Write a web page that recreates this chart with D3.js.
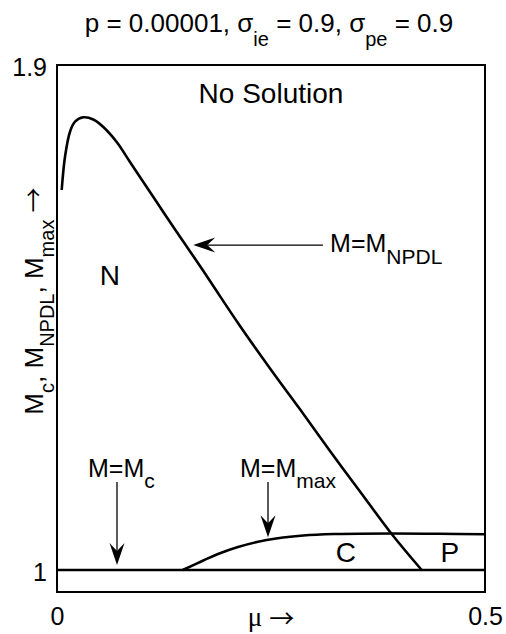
<!DOCTYPE html>
<html>
<head>
<meta charset="utf-8">
<script src="https://cdn.jsdelivr.net/npm/d3@7"></script>
<style>
  html, body { margin: 0; padding: 0; background: #fff; }
  svg { display: block; }
  text { font-family: "Liberation Sans", Arial, Helvetica, sans-serif; fill: #000; }
</style>
</head>
<body>
<svg id="chart" width="506" height="634"></svg>
<script>
// ---- data ----
const xTickValues = [0, 0.5];
const xTickLabels = ["0", "0.5"];
const yTickValues = [1, 1.9];
const yTickLabels = ["1", "1.9"];

// M = M_NPDL curve (mu, M)
const npdlMu = [0.00549, 0.00935, 0.01519, 0.02103, 0.03072, 0.04241, 0.05409, 0.06974, 0.08528, 0.10082,
                0.11647, 0.13201, 0.14953, 0.16706, 0.18259, 0.21379, 0.25269, 0.28388, 0.31893, 0.35397, 0.39100, 0.42605];
const npdlM  = [1.6772, 1.7366, 1.7811, 1.7990, 1.8068, 1.8029, 1.7895, 1.7628, 1.7271, 1.6915,
                1.6558, 1.6202, 1.5810, 1.5418, 1.5061, 1.4349, 1.3511, 1.2864, 1.2121, 1.1399, 1.0642, 1.0000];

// M = M_max curve
const maxMu = [0.14685, 0.17091, 0.18808, 0.21145, 0.24498, 0.28773, 0.32675, 0.39100, 0.44626, 0.50000];
const maxM  = [1.00000, 1.01693, 1.02852, 1.04099, 1.05347, 1.06149, 1.06416, 1.06505, 1.06452, 1.06362];

// M = M_c line
const mcMu = [0, 0.5];
const mcM  = [1, 1];

// ---- layout ----
const svg = d3.select("#chart");
const x = d3.scaleLinear().domain([0, 0.5]).range([57, 485]);
const y = d3.scaleLinear().domain([0.9608, 1.9]).range([592, 65]);

const FS = 25;
const ARROW_FONT = '"Noto Sans CJK JP", "Noto Sans CJK SC", "DejaVu Sans", sans-serif';

// frame
svg.append("rect")
  .attr("x", x(0)).attr("y", y(1.9))
  .attr("width", x(0.5) - x(0)).attr("height", y(0.9608) - y(1.9))
  .attr("fill", "none").attr("stroke", "#000").attr("stroke-width", 2);

// axes (labels only)
const xAxis = d3.axisBottom(x).tickValues(xTickValues).tickSize(0).tickPadding(15)
  .tickFormat((d, i) => xTickLabels[i]);
const gx = svg.append("g").attr("transform", `translate(0,${y(0.9608)})`).call(xAxis);
gx.select(".domain").remove();
gx.selectAll("text").attr("font-size", FS).attr("font-family", null);

const yAxis = d3.axisLeft(y).tickValues(yTickValues).tickSize(0).tickPadding(10)
  .tickFormat((d, i) => yTickLabels[i]);
const gy = svg.append("g").attr("transform", `translate(${x(0)},0)`).call(yAxis);
gy.select(".domain").remove();
gy.selectAll("text").attr("font-size", FS).attr("font-family", null).attr("dy", "0.4em");

// curves
const line = d3.line().x(d => x(d[0])).y(d => y(d[1])).curve(d3.curveCatmullRom.alpha(0.5));
function series(mu, m) { return mu.map((v, i) => [v, m[i]]); }

[[mcMu, mcM], [maxMu, maxM], [npdlMu, npdlM]].forEach(([mu, m]) => {
  svg.append("path").datum(series(mu, m)).attr("d", line)
    .attr("fill", "none").attr("stroke", "#000").attr("stroke-width", 2.6)
    .attr("stroke-linejoin", "round");
});

// arrows (data coordinates: from -> to)
function arrow(x0, y0, x1, y1) {
  const px0 = x(x0), py0 = y(y0), px1 = x(x1), py1 = y(y1);
  const ang = Math.atan2(py1 - py0, px1 - px0);
  const L = 22, W = 7.5, N = 14;
  const c = Math.cos(ang), s = Math.sin(ang);
  const pt = (a, b) => [px1 + a * c - b * s, py1 + a * s + b * c];
  const sEnd = pt(-N, 0);
  svg.append("line").attr("x1", px0).attr("y1", py0).attr("x2", sEnd[0]).attr("y2", sEnd[1])
    .attr("stroke", "#000").attr("stroke-width", 1.3);
  const p = [pt(0, 0), pt(-L, -W), pt(-N, 0), pt(-L, W)];
  svg.append("path").attr("d", "M" + p.map(q => q.join(",")).join("L") + "Z").attr("fill", "#000");
}
arrow(0.0701, 1.157, 0.0701, 1.009);   // M = Mc
arrow(0.2465, 1.157, 0.2465, 1.0585);  // M = Mmax
arrow(0.3107, 1.579, 0.1592, 1.579);   // M = MNPDL

// text helpers
// parts: string (main), [text, dy] (subscript), {t, family, size, dy} (special)
function appendParts(t, parts, mainSize, subSize) {
  let shift = 0;
  parts.forEach(p => {
    let txt, d = 0, size = mainSize, fam = null;
    if (typeof p === "string") { txt = p; }
    else if (Array.isArray(p)) { txt = p[0]; d = p[1]; size = subSize; }
    else { txt = p.t; d = p.dy || 0; size = p.size || mainSize; fam = p.family || null; }
    const ts = t.append("tspan").attr("dy", d - shift).attr("font-size", size).text(txt);
    if (fam) ts.attr("font-family", fam);
    shift = d;
  });
}
function label(xp, yp, parts, anchor, mainSize, subSize) {
  const t = svg.append("text").attr("x", xp).attr("y", yp)
    .attr("text-anchor", anchor || "start").attr("font-size", mainSize || FS);
  appendParts(t, parts, mainSize || FS, subSize || 20);
  return t;
}

// title
label(269, 32, ["p = 0.00001, σ", ["ie", 14], " = 0.9, σ", ["pe", 14], " = 0.9"], "middle", 26, 20);

// region labels
label(x(0.25), y(1.832), ["No Solution"], "middle", 28);
label(x(0.0619), y(1.508), ["N"], "middle", 28);
label(x(0.3376), y(1.0143), ["C"], "middle", 28);
label(x(0.459), y(1.0143), ["P"], "middle", 28);

// curve labels
label(x(0.0362), y(1.1657), ["M=M", ["c", 11]], "start", 25, 21);
label(x(0.2138), y(1.1657), ["M=M", ["max", 11]], "start", 25, 21);
label(x(0.319), y(1.567), ["M=M", ["NPDL", 12]], "start", 25, 21);

// x axis title
label(271, 626, [{t: "μ", family: "Liberation Serif", size: 27}, " ", {t: "→", family: ARROW_FONT, size: 25, dy: 2}], "middle", 25);

// y axis title
const yt = svg.append("text").attr("transform", "translate(43,301) rotate(-90)")
  .attr("text-anchor", "middle").attr("font-size", 26);
appendParts(yt, ["M", ["c", 11], ", M", ["NPDL", 11], ", M", ["max", 11], " ", {t: "→", family: ARROW_FONT, size: 25, dy: 0}], 26, 20);
</script>
</body>
</html>
